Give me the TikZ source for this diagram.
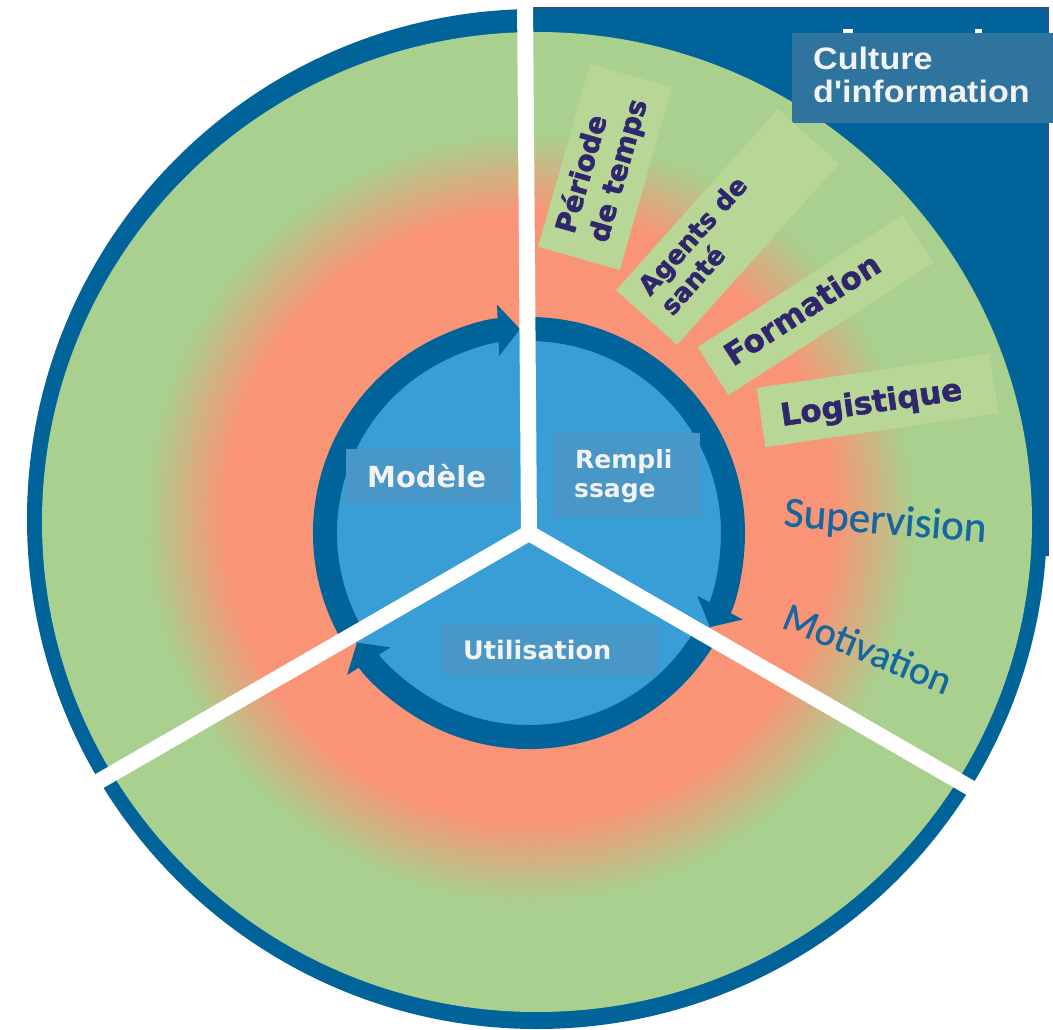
\documentclass[tikz,border=0pt]{standalone}
\usepackage{fontspec}
\usetikzlibrary{arrows.meta}
\newfontfamily\dvfont{DejaVu Sans}
\newfontfamily\hvfont[FakeBold=1.6]{DejaVu Sans Bold}
\newfontfamily\libfont{Liberation Sans}
\newfontfamily\carfont[FakeBold=0.7]{Carlito}
\definecolor{dblue}{RGB}{0,99,153}
\definecolor{lblue}{RGB}{56,158,213}
\definecolor{lbbox}{RGB}{72,151,198}
\definecolor{cbox}{RGB}{46,116,158}
\definecolor{grn}{RGB}{169,208,142}
\definecolor{salm}{RGB}{250,148,118}
\definecolor{lgrn}{RGB}{184,215,150}
\definecolor{navy}{RGB}{47,38,107}
\definecolor{txtblue}{RGB}{22,102,160}
\definecolor{rectline}{RGB}{46,74,138}
\definecolor{wtxt}{RGB}{243,243,243}
\begin{document}
\begin{tikzpicture}[x=1pt,y=-1pt,
  ring/.style={dblue, line width=24pt, -{Triangle[width=50pt,length=22pt]}},
  wline/.style={white, line width=16pt, line cap=round, line join=miter},
  gbox/.style={fill=lgrn, inner sep=0pt, draw=none},
  gtxt/.style={text=navy, inner sep=0pt, anchor=base west},
  ibox/.style={fill=lbbox, inner sep=0pt, draw=none},
  itxt/.style={text=wtxt, inner sep=0pt, anchor=base west},
  btxt/.style={text=txtblue, inner sep=0pt, anchor=base west}]
\useasboundingbox (0,0) rectangle (1053,1030);
\fill[white] (0,0) rectangle (1053,1030);
% dark blue corner panel
\filldraw[fill=dblue, draw=rectline, line width=1.2pt] (530,8) rectangle (1048,555);
% main disc
\fill[dblue] (537,519) circle[radius=510];
\fill[grn] (537,522) ellipse[x radius=495, y radius=490];
% salmon ring gradient
\foreach \r in {385,383,...,305} {
  \pgfmathsetmacro\p{(385-\r)/80*100}
  \fill[salm!\p!grn] (530,518) circle[radius=\r];
}
% inner disc
\fill[lblue] (529,533) circle[radius=205];
\begin{scope}[shift={(529,533)}]
  \draw[ring] (150:204) arc[start angle=150, end angle=267.5, radius=204];
  \draw[ring] (270:204) arc[start angle=270, end angle=387.5, radius=204];
  \draw[ring] (30:204) arc[start angle=30, end angle=147.5, radius=204];
\end{scope}
% white dividers
\coordinate (J) at (529,533);
\coordinate (T) at (525,-4);
\coordinate (LL) at (78.7,793);
\coordinate (LR) at (979.3,793);
\draw[wline] (T) -- (J) -- (LL);
\draw[wline] (J) -- (LR);
% culture box
\fill[white] (843,29) rectangle (853,34);
\fill[white] (975,29) rectangle (982,34);
\node[fill=cbox, inner sep=0pt, minimum width=261pt, minimum height=90pt] (cb) at (922.5,78) {};
\node[itxt, xscale=1.1, font={\libfont\bfseries\fontsize{31pt}{36pt}\selectfont}] (cu1) at (813,70) {Culture};
\node[itxt, xscale=1.1, font={\libfont\bfseries\fontsize{31pt}{36pt}\selectfont}] (cu2) at (813,103) {d'information};
% green label boxes
\node[gbox, rotate=74.1, minimum width=190pt, minimum height=85pt] (b1) at (605,167) {};
\node[gtxt, rotate=74.1, font={\hvfont\fontsize{28pt}{34pt}\selectfont}] (t1a) at (574,235) {Période};
\node[gtxt, rotate=74.1, font={\hvfont\fontsize{28pt}{34pt}\selectfont}] (t1b) at (607,244) {de temps};
\node[gbox, rotate=48.2, minimum width=243pt, minimum height=82pt] (b2) at (727.5,227) {};
\node[gtxt, rotate=48.2, font={\hvfont\fontsize{26pt}{30pt}\selectfont}] (t2a) at (650,297) {Agents de};
\node[gtxt, rotate=48.2, font={\hvfont\fontsize{26pt}{30pt}\selectfont}] (t2b) at (672.4,317) {santé};
\node[gbox, rotate=32.8, minimum width=244pt, minimum height=57pt] (b3) at (815.5,305) {};
\node[gtxt, rotate=32.8, font={\hvfont\fontsize{31pt}{36pt}\selectfont}] (t3) at (733,367) {Formation};
\node[gbox, rotate=8.3, minimum width=235.5pt, minimum height=60pt] (b4) at (877.5,400.5) {};
\node[gtxt, rotate=8.3, font={\hvfont\fontsize{31pt}{36pt}\selectfont}] (t4) at (782,426) {Logistique};
% blue words
\node[btxt, rotate=-4.5, font={\carfont\fontsize{43pt}{50pt}\selectfont}] (sup) at (783,526) {Supervision};
\node[btxt, rotate=-22.4, font={\carfont\fontsize{40pt}{48pt}\selectfont}] (mot) at (780,627) {Motivation};
% inner labels
\node[ibox, minimum width=167pt, minimum height=54pt] (mb) at (429.5,476) {};
\node[itxt, font={\dvfont\bfseries\fontsize{29pt}{34pt}\selectfont}] (mt) at (367,487) {Modèle};
\node[ibox, minimum width=146pt, minimum height=84pt] (rb) at (627,475) {};
\node[itxt, font={\dvfont\bfseries\fontsize{25pt}{30pt}\selectfont}] (rt1) at (575,468) {Rempli};
\node[itxt, font={\dvfont\bfseries\fontsize{25pt}{30pt}\selectfont}] (rt2) at (574,497) {ssage};
\node[ibox, minimum width=216pt, minimum height=50pt] (ub) at (550,650) {};
\node[itxt, font={\dvfont\bfseries\fontsize{25.5pt}{30pt}\selectfont}] (ut) at (463,659) {Utilisation};
\end{tikzpicture}
\end{document}
